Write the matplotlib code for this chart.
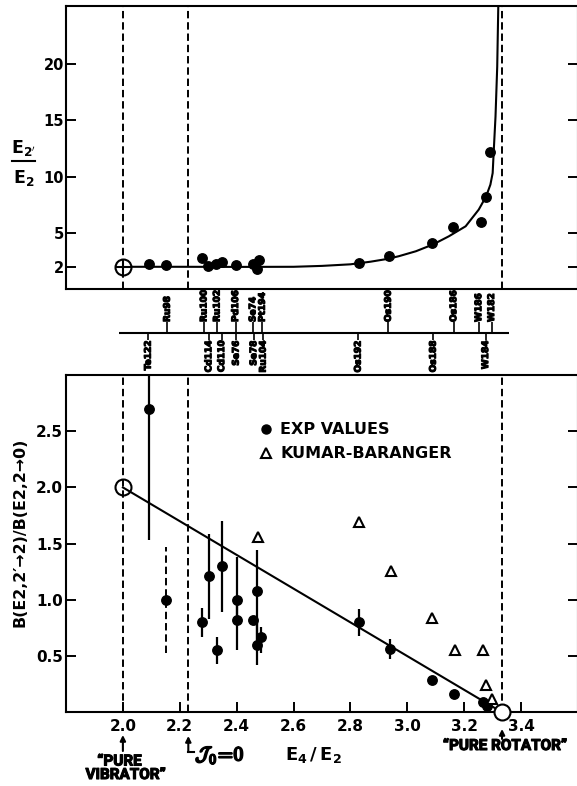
import matplotlib
matplotlib.use("Agg")
import matplotlib.pyplot as plt
from matplotlib import transforms
from matplotlib import patheffects
from matplotlib.lines import Line2D

W, H, DPI = 577, 786, 100

plt.rcParams["font.family"] = ["DejaVu Sans"]
plt.rcParams["font.weight"] = "bold"
plt.rcParams["mathtext.fontset"] = "dejavusans"
plt.rcParams["mathtext.default"] = "bf"

NARROW = ["Roboto", "DejaVu Sans"]

# ---------------- upper panel: E2'/E2 against E4/E2 ----------------
top_x = [2.092, 2.153, 2.279, 2.298, 2.327, 2.349, 2.399, 2.457, 2.480, 2.470,
         2.829, 2.935, 3.088, 3.160, 3.258, 3.277, 3.291]
top_y = [2.29, 2.20, 2.77, 2.05, 2.26, 2.41, 2.18, 2.26, 2.59, 1.82,
         2.35, 3.00, 4.13, 5.55, 6.00, 8.24, 12.17]

curve_x = [2.00, 2.20, 2.40, 2.60, 2.70, 2.80, 2.87, 2.93, 2.97, 3.03, 3.09,
           3.146, 3.205, 3.251, 3.277, 3.292, 3.300, 3.304, 3.310, 3.316, 3.320]
curve_y = [2.00, 2.00, 1.99, 2.00, 2.08, 2.22, 2.45, 2.70, 2.94, 3.38, 3.98,
           4.71, 5.60, 7.08, 8.26, 9.30, 10.33, 12.40, 15.35, 19.78, 25.50]

top_yticks = [2, 5, 10, 15, 20]

# ---------------- nucleus labels between the panels ----------------
upper_names = ["Ru98", "Ru100", "Ru102", "Pd106", "Se74", "Pt194",
               "Os190", "Os186", "W186", "W182"]
upper_pos = [2.156, 2.285, 2.331, 2.396, 2.457, 2.490, 2.933, 3.163, 3.251, 3.296]
lower_names = ["Te122", "Cd114", "Cd110", "Se76", "Se78", "Ru104",
               "Os192", "Os188", "W184"]
lower_pos = [2.089, 2.302, 2.347, 2.398, 2.460, 2.493, 2.827, 3.091, 3.275]

# ---------------- lower panel: B(E2) branching ratio ----------------
exp_x = [2.092, 2.279, 2.301, 2.331, 2.349, 2.401, 2.401, 2.457, 2.470, 2.470,
         2.484, 2.829, 2.940, 3.087, 3.163, 3.265, 3.281]
exp_y = [2.70, 0.80, 1.215, 0.555, 1.30, 1.00, 0.82, 0.82, 1.08, 0.60,
         0.667, 0.80, 0.565, 0.288, 0.163, 0.09, 0.06]
exp_lo = [1.53, 0.67, 0.83, 0.43, 0.89, 0.82, 0.555, 0.82, 0.60, 0.42,
          0.53, 0.68, 0.475, 0.288, 0.163, 0.09, 0.06]
exp_hi = [3.05, 0.93, 1.59, 0.667, 1.70, 1.38, 1.00, 0.82, 1.44, 0.82,
          0.76, 0.92, 0.65, 0.288, 0.163, 0.09, 0.06]

# uncertain value drawn with a dashed bar
unc_x = [2.153]
unc_y = [1.00]
unc_lo = [0.53]
unc_hi = [1.47]

kb_x = [2.476, 2.829, 2.944, 3.087, 3.167, 3.266, 3.277, 3.298]
kb_y = [1.556, 1.69, 1.26, 0.84, 0.555, 0.555, 0.246, 0.12]

line_x = [2.0, 3.333]
line_y = [2.0, 0.0]

bot_xticks = [2.0, 2.2, 2.4, 2.6, 2.8, 3.0, 3.2, 3.4]
bot_yticks = [0.5, 1.0, 1.5, 2.0, 2.5]

vib_x = 2.0
j0_x = 2.23
rot_x = 3.333

XLIM = (1.8, 3.6)


def fy(py):
    return 1 - py / H


fig = plt.figure(figsize=(W / DPI, H / DPI), dpi=DPI)
L = 66 / W
R = 578 / W
ax_top = fig.add_axes([L, fy(289.3), R - L, (289.3 - 5.7) / H])
ax_bot = fig.add_axes([L, fy(712.3), R - L, (712.3 - 375) / H])
ax_mid = fig.add_axes([L, fy(374), R - L, (374 - 290) / H])

dash = (0, (3.8, 2.0))
thick = [patheffects.withStroke(linewidth=0.8, foreground="k")]

for ax in (ax_top, ax_bot):
    ax.set_xlim(*XLIM)
    for s in ax.spines.values():
        s.set_linewidth(1.5)
    for xv in (vib_x, j0_x, rot_x):
        ax.axvline(xv, color="k", lw=1.4, ls=dash, zorder=1)

# upper panel
ax_top.set_ylim(0, 25.2)
ax_top.set_xticks([])
ax_top.set_yticks(top_yticks)
ax_top.set_yticklabels([str(v) for v in top_yticks])
ax_top.tick_params(axis="y", direction="in", length=7, width=1.4, right=True,
                   labelsize=10.5, pad=1.5)
ax_top.plot(curve_x, curve_y, color="k", lw=1.5, zorder=2)
ax_top.plot(top_x, top_y, "o", color="k", ms=6.8, zorder=3)
ax_top.plot([vib_x], [2.0], "o", mfc="white", mec="k", ms=11.5, mew=1.5, zorder=4)
ax_top.plot([vib_x], [2.0], "+", color="k", ms=11, mew=1.5, zorder=5)

# label strip
ax_mid.set_xlim(*XLIM)
ax_mid.set_ylim(374, 290)
ax_mid.axis("off")
ax_mid.hlines(333.3, 1.986, 3.357, color="k", lw=1.5)
ax_mid.vlines(upper_pos, 322, 333.3, color="k", lw=1.2)
ax_mid.vlines(lower_pos, 333.3, 340, color="k", lw=1.2)
for name, xv in zip(upper_names, upper_pos):
    ax_mid.text(xv, 322, name, rotation=90, ha="center", va="bottom",
                fontsize=6.5, fontweight="bold", path_effects=thick)
for name, xv in zip(lower_names, lower_pos):
    ax_mid.text(xv, 340.5, name, rotation=90, ha="center", va="top",
                fontsize=6.5, fontweight="bold", path_effects=thick)

# lower panel
ax_bot.set_ylim(0, 3.0)
ax_bot.set_xticks(bot_xticks)
ax_bot.set_xticklabels([f"{v:.1f}" for v in bot_xticks])
ax_bot.set_yticks(bot_yticks)
ax_bot.set_yticklabels([f"{v:.1f}" for v in bot_yticks])
ax_bot.tick_params(axis="x", direction="in", length=7.5, width=1.4,
                   labelsize=11, pad=4.5)
ax_bot.tick_params(axis="y", direction="in", length=7.5, width=1.4, right=True,
                   labelsize=11, pad=2)

ax_bot.plot(line_x, line_y, color="k", lw=1.5, zorder=2)
ax_bot.vlines(exp_x, exp_lo, exp_hi, color="k", lw=1.6, zorder=3)
ax_bot.plot(exp_x, exp_y, "o", color="k", ms=6.8, zorder=4)
ax_bot.vlines(unc_x, unc_lo, unc_hi, color="k", lw=1.4, linestyles=[dash], zorder=3)
ax_bot.plot(unc_x, unc_y, "o", color="k", ms=6.8, zorder=4)
ax_bot.plot(kb_x, kb_y, "^", mfc="white", mec="k", ms=7, mew=1.5, zorder=5)
ax_bot.plot([vib_x], [2.0], "o", mfc="none", mec="k", ms=11.5, mew=1.5, zorder=5)
ax_bot.plot([rot_x], [0.0], "o", mfc="white", mec="k", ms=11.5, mew=1.5,
            zorder=6, clip_on=False)

# legend
lx = (266 - 66) / 512
tx = (280 - 66) / 512
ax_bot.plot([lx], [0.839], "o", color="k", ms=6.5, transform=ax_bot.transAxes)
ax_bot.plot([lx], [0.768], "^", mfc="white", mec="k", ms=7, mew=1.5,
            transform=ax_bot.transAxes)
ax_bot.text(tx, 0.839, "EXP VALUES", transform=ax_bot.transAxes,
            ha="left", va="center", fontsize=11.5, fontweight="bold")
ax_bot.text(tx, 0.768, "KUMAR-BARANGER", transform=ax_bot.transAxes,
            ha="left", va="center", fontsize=11.5, fontweight="bold")

# axis titles
fig.text(23 / W, fy(152.5), r"$E_{2'}$", ha="center", va="baseline", fontsize=12.5)
fig.add_artist(Line2D([12 / W, 35 / W], [fy(161), fy(161)], color="k", lw=1.5))
fig.text(24 / W, fy(182.5), r"$E_{2}$", ha="center", va="baseline", fontsize=12.5)

fig.text(20 / W, fy(532), "B(E2,2\u2032\u21922)/B(E2,2\u21920)", rotation=90,
         ha="center", va="center", fontsize=11.3, fontweight="bold")
fig.text(313 / W, fy(755), r"$E_4\,/\,E_2$", ha="center", va="center", fontsize=13)

# limit markers under the lower axis
bt = transforms.blended_transform_factory(ax_bot.transData, fig.transFigure)
arrow = dict(arrowstyle="-|>", color="k", lw=1.5, mutation_scale=8,
             shrinkA=0, shrinkB=0)
ax_bot.annotate("", xy=(vib_x, fy(735)), xytext=(vib_x, fy(751)),
                xycoords=bt, textcoords=bt, arrowprops=arrow, annotation_clip=False)
ax_bot.annotate("", xy=(j0_x, fy(736)), xytext=(j0_x, fy(752)),
                xycoords=bt, textcoords=bt, arrowprops=arrow, annotation_clip=False)
ax_bot.add_line(Line2D([j0_x, j0_x + 0.02], [fy(752), fy(752)], color="k", lw=1.5,
                       transform=bt, clip_on=False))
ax_bot.annotate("", xy=(rot_x, fy(729)), xytext=(rot_x, fy(739)),
                xycoords=bt, textcoords=bt, arrowprops=arrow, annotation_clip=False)

ax_bot.text(vib_x - 0.012, fy(761.5), "\u201cPURE", transform=bt, ha="center",
            va="center", fontsize=11, family=NARROW, fontweight="bold",
            path_effects=thick)
ax_bot.text(vib_x + 0.01, fy(775), "VIBRATOR\u201d", transform=bt, ha="center",
            va="center", fontsize=11, family=NARROW, fontweight="bold",
            path_effects=thick)
ax_bot.text(j0_x + 0.024, fy(755), r"$\mathcal{J}_0\!=\!0$", transform=bt,
            ha="left", va="center", fontsize=14, math_fontfamily="cm",
            path_effects=[patheffects.withStroke(linewidth=1.4, foreground="k")])
ax_bot.text(rot_x + 0.01, fy(746), "\u201cPURE ROTATOR\u201d", transform=bt,
            ha="center", va="center", fontsize=11, family=NARROW, fontweight="bold",
            path_effects=thick)

fig.savefig("out.png", dpi=DPI)
